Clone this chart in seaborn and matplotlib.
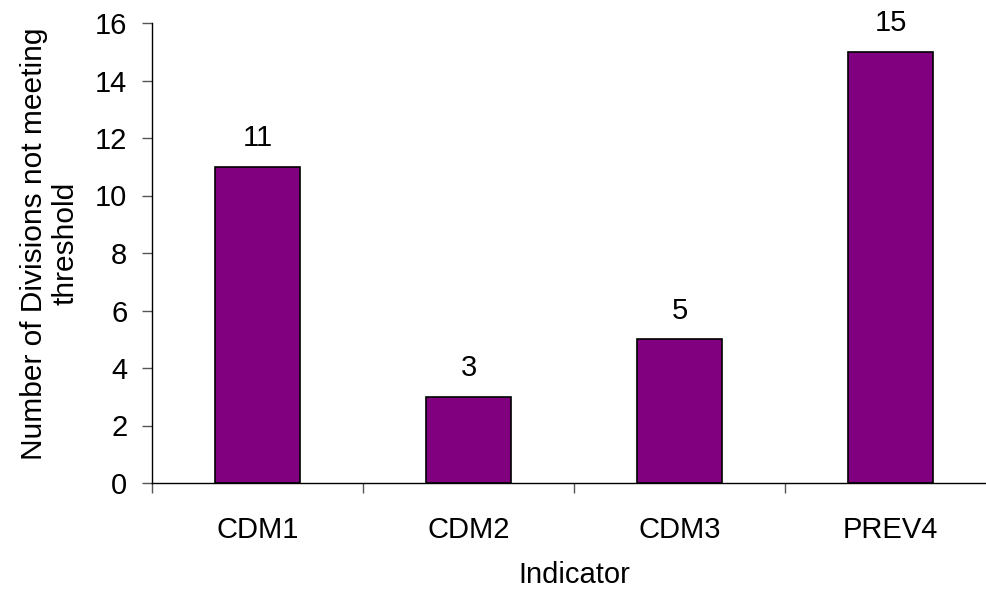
import matplotlib
matplotlib.use("Agg")
import matplotlib.pyplot as plt
import seaborn as sns
import pandas as pd

indicators = ["CDM1", "CDM2", "CDM3", "PREV4"]
divisions = [11, 3, 5, 15]
y_ticks = [0, 2, 4, 6, 8, 10, 12, 14, 16]

sns.set_style("white")
plt.rcParams["font.family"] = ["Liberation Sans", "DejaVu Sans"]
plt.rcParams["text.color"] = "black"
plt.rcParams["axes.labelcolor"] = "black"
plt.rcParams["xtick.labelcolor"] = "black"
plt.rcParams["ytick.labelcolor"] = "black"

FS = 21

df = pd.DataFrame({"Indicator": indicators, "Divisions": divisions})

fig = plt.figure(figsize=(9.86, 5.92), dpi=100)
ax = fig.add_axes([152 / 986, 1 - 483 / 592, (996 - 152) / 986, (483 - 23) / 592])

sns.barplot(data=df, x="Indicator", y="Divisions", color="#800080",
            edgecolor="black", linewidth=1.2, width=0.40, saturation=1, ax=ax)

for i, v in enumerate(divisions):
    ax.text(i, v + 0.5, str(v), ha="center", va="bottom", fontsize=FS, color="black")

ax.set_ylim(0, 16)
ax.set_xlim(-0.5, len(indicators) - 0.5)
ax.set_yticks(y_ticks)
ax.set_yticklabels([str(t) for t in y_ticks], fontsize=FS)

# category labels sit between boundary ticks
ax.set_xticks([i - 0.5 for i in range(len(indicators))])
ax.set_xticklabels([])
ax.set_xticks(range(len(indicators)), minor=True)
ax.set_xticklabels(indicators, minor=True, fontsize=FS)
ax.tick_params(axis="x", which="minor", length=0, pad=24)
ax.tick_params(axis="x", which="major", length=7.2, width=1, color="#555555", direction="out", bottom=True)
ax.tick_params(axis="y", length=7.2, width=1, color="#555555", direction="out", left=True, pad=10.5)

for side in ["top", "right"]:
    ax.spines[side].set_visible(False)
for side in ["left", "bottom"]:
    ax.spines[side].set_color("black")
    ax.spines[side].set_linewidth(1)

ax.set_xlabel("Indicator", fontsize=FS, labelpad=12)
ax.set_ylabel("Number of Divisions not meeting\nthreshold", fontsize=21.5, linespacing=1.15)
ax.yaxis.set_label_coords((79 - 152) / 844, 0.52)

fig.savefig("out.png", dpi=100)
